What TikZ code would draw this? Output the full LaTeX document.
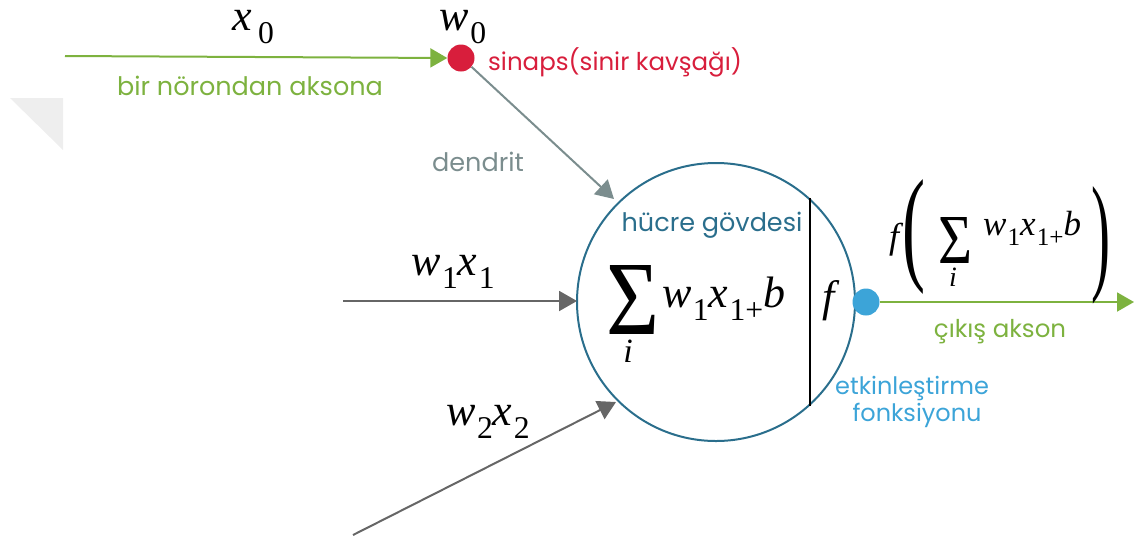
\documentclass[tikz,border=0pt]{standalone}
\usepackage{fontspec}
\setmainfont{Poppins}
\newfontfamily\tms{Liberation Serif}
\usetikzlibrary{arrows.meta}
\definecolor{cgreen}{HTML}{7DB23F}
\definecolor{cred}{HTML}{D81E3C}
\definecolor{cdend}{HTML}{7B8D8E}
\definecolor{ccirc}{HTML}{2A6E8C}
\definecolor{cblue}{HTML}{3CA4D8}
\definecolor{cgray}{HTML}{666666}
\newcommand\vsub[2]{{\itshape #1}\kern0.03em\raisebox{-0.3em}{\scalebox{0.72}{#2}}}
\tikzset{
  lbl/.style={inner sep=0pt, font=\fontsize{25.5}{30}\selectfont},
  mlbl/.style={inner sep=0pt, font=\tms\fontsize{44}{48}\selectfont},
  greenarrow/.style={draw=cgreen, line width=2pt, -{Triangle[length=17pt,width=19pt]}},
  grayarrow/.style={draw=cgray, line width=2pt, -{Triangle[length=18pt,width=20pt]}},
  dendarrow/.style={draw=cdend, line width=2pt, -{Triangle[length=18pt,width=20pt]}},
  dot/.style={circle, inner sep=0pt, minimum size=27pt},
  bigsym/.style={inner sep=0pt, font=\tms\fontsize{80}{90}\selectfont},
}
\begin{document}
\begin{tikzpicture}[x=1pt,y=-1pt]
\useasboundingbox (0,0) rectangle (1142,542);
% faint shadow triangle
\fill[gray!13] (10,98) -- (63,98) -- (63,150) -- cycle;

% cell body
\node[circle, draw=ccirc, line width=2pt, minimum size=278pt, inner sep=0pt] (cell) at (716,302) {};
\draw[black, line width=2pt] (cell.48) -- (cell.-48);

% synapse and output dots
\node[dot, fill=cred] (syn) at (461,58) {};
\node[dot, fill=cblue] (out) at (866,302) {};

% free ends
\coordinate (in0) at (65,56);
\coordinate (in1) at (343,301);
\coordinate (in2) at (353,535);
\coordinate (dtip) at (614,199);
\coordinate (t1) at (577,301);
\coordinate (t2) at (616,402);
\coordinate (otip) at (1134,302);

\draw[greenarrow] (in0) -- (syn.west);
\draw[dendarrow] (syn.-40) -- (dtip);
\draw[grayarrow] (in1) -- (t1);
\draw[grayarrow] (in2) -- (t2);
\draw[greenarrow] (out.east) -- (otip);

% math labels
\node[mlbl, anchor=base] (x0) at (253,30) {\vsub{x}{\,0}};
\node[mlbl, anchor=base] (w0) at (463,30) {\vsub{w}{0}};
\node[mlbl, anchor=base] (w1x1) at (453,275) {\vsub{w}{1}\vsub{x}{1}};
\node[mlbl, anchor=base] (w2x2) at (488,425) {\vsub{w}{2}\vsub{x}{2}};

% formula in cell
\node[bigsym] (sig1) at (633,300) {\resizebox{53pt}{69pt}{Σ}};
\node[mlbl, font=\tms\fontsize{34}{38}\selectfont\itshape, anchor=base] (i1) at (628,362) {i};
\node[mlbl, anchor=base west] (s1) at (662,307) {\vsub{w}{1}\vsub{x}{1+}{\itshape b}};
\node[mlbl, anchor=base] (f1) at (829,311) {\itshape f};

% output formula
\node[mlbl, font=\tms\fontsize{36}{40}\selectfont\itshape, anchor=base] (f2) at (894,248) {f};
\node[bigsym] (lp) at (914,237) {\resizebox{23pt}{88pt}{(}};
\node[bigsym] (sig2) at (955,240) {\resizebox{34pt}{46pt}{Σ}};
\node[mlbl, font=\tms\fontsize{28}{32}\selectfont\itshape, anchor=base] (i2) at (953,286) {i};
\node[mlbl, font=\tms\fontsize{35}{38}\selectfont, anchor=base west] (s2) at (983,235) {\vsub{w}{1}\vsub{x}{1+}{\itshape b}};
\node[bigsym] (rp) at (1101,245) {\resizebox{19pt}{90pt}{)}};

% text labels
\node[lbl, text=cgreen, anchor=base] (axon) at (250,95) {bir nörondan aksona};
\node[lbl, text=cred, anchor=base west, font=\fontsize{24.5}{28}\selectfont] (sinaps) at (488,70) {sinaps(sinir kavşağı)};
\node[lbl, text=cdend, anchor=base] (dendrit) at (478,171) {dendrit};
\node[lbl, text=ccirc, anchor=base] (hucre) at (712,231) {hücre gövdesi};
\node[lbl, text=cgreen, anchor=base, font=\fontsize{24.5}{28}\selectfont] (cikis) at (1000,337) {çıkış akson};
\node[lbl, text=cblue, anchor=base, font=\fontsize{24}{28}\selectfont] (etk) at (912,394) {etkinleştirme};
\node[lbl, text=cblue, anchor=base, font=\fontsize{24}{28}\selectfont] (fonk) at (917,421) {fonksiyonu};
\end{tikzpicture}
\end{document}
